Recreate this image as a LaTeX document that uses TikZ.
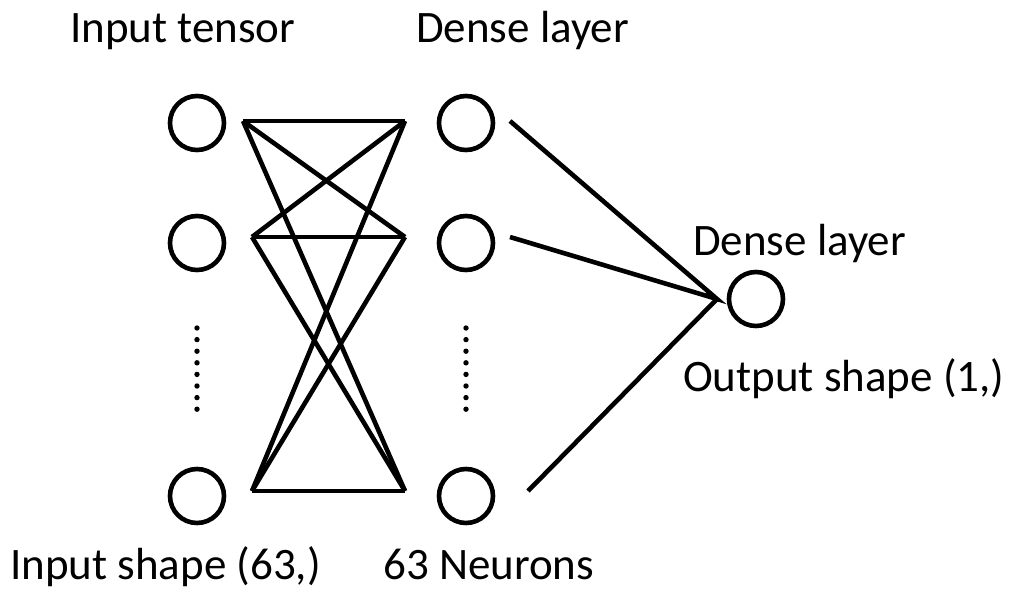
\documentclass[tikz,border=0pt]{standalone}
\usepackage{fontspec}
\setmainfont{Carlito}
\usetikzlibrary{positioning}

\tikzset{
  neuron/.style={circle,draw,line width=4.6pt,minimum size=54pt,inner sep=0pt},
  wire/.style={line width=4.6pt,line join=miter},
  layertext/.style={font=\fontsize{45}{54}\selectfont,inner sep=0pt,anchor=base west}
}

\begin{document}
\begin{tikzpicture}[x=1pt,y=-1pt]
\useasboundingbox (0,0) rectangle (1015,592);

\def\rows{123,243,496}

% draw the neurons
\foreach \y [count=\ni] in \rows
{
\node[neuron] (in\ni) at (197,\y) {};
\node[neuron] (hid\ni) at (466,\y) {};
}
\node[neuron] (out) at (756,299) {};

% ends of the wires
\foreach \xl/\xr/\y [count=\ni] in {243/405/121,252/405/237,252/405/491}
{
\coordinate (l\ni) at (\xl,\y);
\coordinate (r\ni) at (\xr,\y);
}
\coordinate (s1) at (510,121);
\coordinate (s2) at (510,237);
\coordinate (s3) at (528,491);
\coordinate (tip) at (717,299);

% draw the fully connected wires
\foreach \i in {1,2,3}
  \foreach \j in {1,2,3}
    \draw[wire] (l\i) -- (r\j);

% draw the wires to the output
\draw[wire] (s1) -- (tip) -- (s2);
\draw[wire] (tip) -- (s3);

% draw the dots for the hidden rows
\foreach \x in {197,466}
  \foreach \k in {0,...,7}
    \fill ({\x},{328+\k*11.6}) circle (2.7);

% labels
\node[layertext] (tin) at (70,42) {Input tensor};
\node[layertext] (tdense) at (416,42) {Dense layer};
\node[layertext] (tout) at (693,255) {Dense layer};
\node[layertext] (tshape) at (683,391) {Output shape (1,)};
\node[layertext] (tinshape) at (10,579) {Input shape (63,)};
\node[layertext] (tneur) at (383,579) {63 Neurons};

\end{tikzpicture}
\end{document}
